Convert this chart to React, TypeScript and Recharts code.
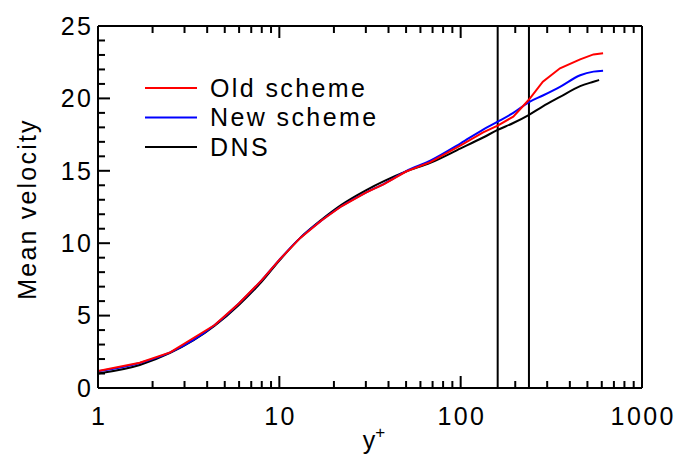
import { LineChart, Line, XAxis, YAxis, ReferenceLine, Legend } from "recharts";

// y+ positions (log axis)
const yPlus = [1, 1.7, 2.5, 4.4, 6, 8, 10, 13, 17, 22, 30, 38, 50, 68, 100, 133, 160, 195, 237, 284, 353, 456, 540, 610];
const yPlusDns = [1, 1.7, 2.5, 4.4, 6, 8, 10, 13, 17, 22, 30, 38, 50, 68, 100, 133, 160, 195, 237, 284, 353, 456, 540, 580];

const oldScheme = [1.17, 1.75, 2.46, 4.35, 5.85, 7.45, 8.85, 10.35, 11.55, 12.55, 13.5, 14.1, 14.95, 15.6, 16.75, 17.65, 18.12, 18.74, 19.89, 21.15, 22.08, 22.7, 23.04, 23.11];
const newScheme = [1.15, 1.73, 2.46, 4.35, 5.85, 7.45, 8.85, 10.35, 11.55, 12.55, 13.5, 14.12, 14.97, 15.7, 16.9, 17.85, 18.39, 19.0, 19.73, 20.2, 20.8, 21.6, 21.85, 21.91];
const dns = [1.0, 1.59, 2.42, 4.3, 5.75, 7.35, 8.8, 10.35, 11.6, 12.65, 13.65, 14.3, 14.95, 15.55, 16.55, 17.3, 17.82, 18.3, 18.85, 19.45, 20.1, 20.85, 21.15, 21.27];

const seriesNames = ["Old scheme", "New scheme", "DNS"];
const interfaceLines = [160, 238];

const xTicks = [1, 2, 3, 4, 5, 6, 7, 8, 9, 10, 20, 30, 40, 50, 60, 70, 80, 90, 100, 200, 300, 400, 500, 600, 700, 800, 900, 1000];
const xMajor = [1, 10, 100, 1000];
const yTicks = Array.from({ length: 26 }, (_, i) => i);
const yMajor = [0, 5, 10, 15, 20, 25];

const FONT = "'Liberation Sans', Arial, sans-serif";
const SPACING = 2.4;

const oldData = yPlus.map((x, i) => ({ x, v: oldScheme[i] }));
const newData = yPlus.map((x, i) => ({ x, v: newScheme[i] }));
const dnsData = yPlusDns.map((x, i) => ({ x, v: dns[i] }));

function BottomTick({ x, y, payload }: any) {
  const major = xMajor.includes(payload.value);
  return (
    <g>
      <line x1={x} x2={x} y1={y} y2={y - (major ? 12 : 7)} stroke="#000" strokeWidth={2} />
      {major && (
        <text x={x + SPACING / 2} y={y + 28} dy="0.35em" textAnchor="middle" fontSize={25} fontFamily={FONT} letterSpacing={SPACING} fill="#000">
          {payload.value}
        </text>
      )}
    </g>
  );
}

function TopTick({ x, y, payload }: any) {
  const major = xMajor.includes(payload.value);
  return <line x1={x} x2={x} y1={y} y2={y + (major ? 12 : 7)} stroke="#000" strokeWidth={2} />;
}

function LeftTick({ x, y, payload }: any) {
  const major = yMajor.includes(payload.value);
  return (
    <g>
      <line x1={x} x2={x + (major ? 12 : 7)} y1={y} y2={y} stroke="#000" strokeWidth={2} />
      {major && (
        <text x={x - 7 + SPACING} y={y} dy="0.35em" textAnchor="end" fontSize={25} fontFamily={FONT} letterSpacing={SPACING} fill="#000">
          {payload.value}
        </text>
      )}
    </g>
  );
}

function RightTick({ x, y, payload }: any) {
  const major = yMajor.includes(payload.value);
  return <line x1={x} x2={x - (major ? 12 : 7)} y1={y} y2={y} stroke="#000" strokeWidth={2} />;
}

function LegendBox({ payload }: any) {
  const items = [...(payload || [])].sort(
    (a: any, b: any) => seriesNames.indexOf(a.value) - seriesNames.indexOf(b.value)
  );
  return (
    <svg width={320} height={100} style={{ overflow: "visible" }}>
      {items.map((p: any, i: number) => (
        <g key={p.value}>
          <line x1={0} x2={52} y1={12 + i * 29.5} y2={12 + i * 29.5} stroke={p.color} strokeWidth={2} />
          <text x={65} y={12 + i * 29.5} dy="0.35em" fontSize={25} fontFamily={FONT} letterSpacing={SPACING} fill="#000">
            {p.value}
          </text>
        </g>
      ))}
    </svg>
  );
}

export default function App() {
  return (
    <div style={{ position: "absolute", left: 0, top: 0, width: 677, height: 455 }}>
      <LineChart width={677} height={455} margin={{ top: 25, right: 34, bottom: 0, left: 0 }}>
        <XAxis
          dataKey="x"
          type="number"
          scale="log"
          domain={[1, 1000]}
          ticks={xTicks}
          interval={0}
          allowDataOverflow
          height={67}
          tickSize={0}
          tickMargin={0}
          tickLine={false}
          tick={<BottomTick />}
          axisLine={{ stroke: "#000", strokeWidth: 2 }}
          label={({ viewBox }: any) => (
            <text
              x={viewBox.x + viewBox.width / 2 + 4}
              y={viewBox.y + 61}
              textAnchor="middle"
              fontSize={25}
              fontFamily={FONT}
              fill="#000"
            >
              y<tspan dy={-11} fontSize={17}>+</tspan>
            </text>
          )}
        />
        <XAxis
          xAxisId="top"
          orientation="top"
          dataKey="x"
          type="number"
          scale="log"
          domain={[1, 1000]}
          ticks={xTicks}
          interval={0}
          allowDataOverflow
          height={1}
          tickSize={0}
          tickMargin={0}
          tickLine={false}
          tick={<TopTick />}
          axisLine={{ stroke: "#000", strokeWidth: 2 }}
        />
        <YAxis
          type="number"
          domain={[0, 25]}
          ticks={yTicks}
          interval={0}
          width={98}
          tickSize={0}
          tickMargin={0}
          tickLine={false}
          tick={<LeftTick />}
          axisLine={{ stroke: "#000", strokeWidth: 2 }}
          label={() => (
            <text
              x={27}
              y={209}
              transform="rotate(-90, 27, 209)"
              textAnchor="middle"
              dy="0.35em"
              fontSize={25}
              fontFamily={FONT}
              letterSpacing={2.2}
              fill="#000"
            >
              Mean velocity
            </text>
          )}
        />
        <YAxis
          yAxisId="right"
          orientation="right"
          type="number"
          domain={[0, 25]}
          ticks={yTicks}
          interval={0}
          width={1}
          tickSize={0}
          tickMargin={0}
          tickLine={false}
          tick={<RightTick />}
          axisLine={{ stroke: "#000", strokeWidth: 2 }}
        />
        {interfaceLines.map((x) => (
          <ReferenceLine key={x} x={x} stroke="#000" strokeWidth={2} />
        ))}
        <Line data={dnsData} dataKey="v" name="DNS" stroke="#000000" strokeWidth={2} dot={false} type="monotoneX" isAnimationActive={false} />
        <Line data={newData} dataKey="v" name="New scheme" stroke="#0000ff" strokeWidth={2} dot={false} type="monotoneX" isAnimationActive={false} />
        <Line data={oldData} dataKey="v" name="Old scheme" stroke="#ff0000" strokeWidth={2} dot={false} type="linear" isAnimationActive={false} />
        <Legend
          content={<LegendBox />}
          layout="vertical"
          verticalAlign="middle"
          align="center"
          wrapperStyle={{ position: "absolute", left: 145, top: 76, width: 320, height: 100 }}
        />
      </LineChart>
    </div>
  );
}
